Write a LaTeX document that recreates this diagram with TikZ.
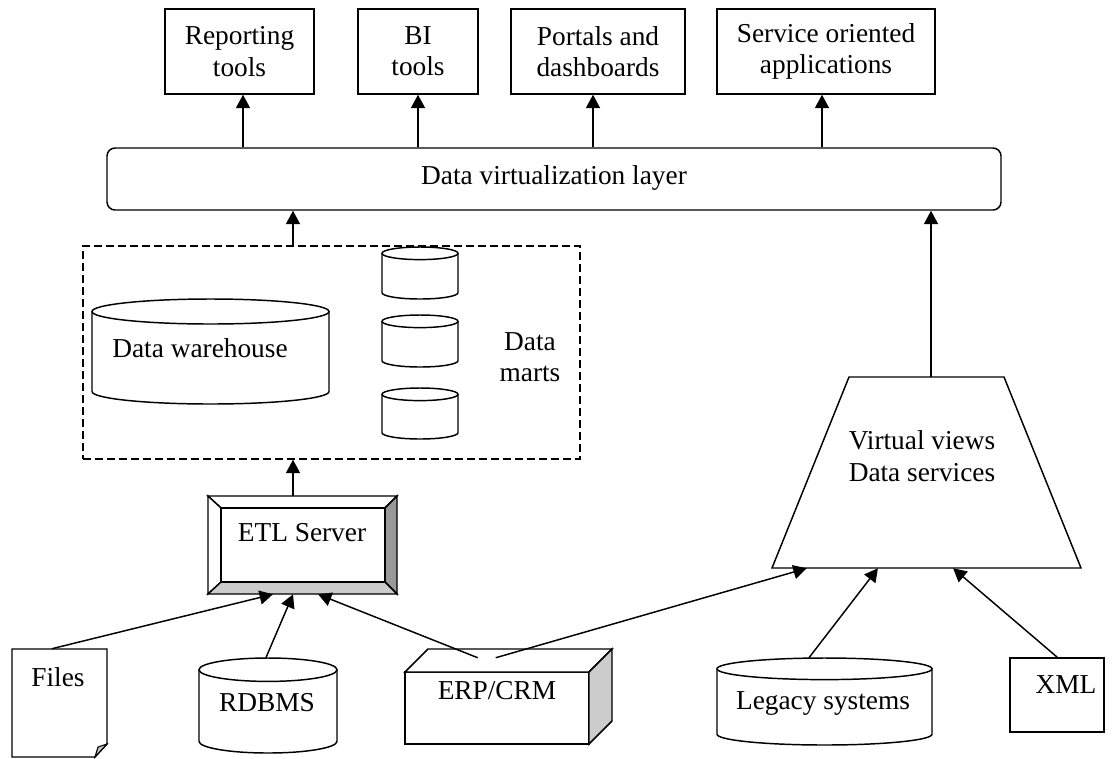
\documentclass[tikz,border=0pt]{standalone}
\usepackage{fontspec}
\setmainfont{Liberation Serif}
\usetikzlibrary{calc,fit,arrows.meta}
\newcommand\cylshape[5]{%
  \filldraw[ln, fill=white] (#1,{#3+#5}) -- (#1,{#4-#5})
    arc[start angle=180, end angle=0, x radius={(#2-#1)/2}, y radius=#5]
    -- (#2,{#3+#5});
  \draw[ln] ({(#1+#2)/2},{#3+#5}) ellipse[x radius={(#2-#1)/2}, y radius=#5];
}
\begin{document}
\begin{tikzpicture}[x=0.75pt,y=-0.75pt,
  every node/.style={font=\fontsize{20.5}{23.5}\selectfont},
  ln/.style={line width=1.1pt},
  box/.style={draw, line width=1.1pt, inner sep=0pt},
  area/.style={inner sep=0pt},
  txt/.style={inner sep=0pt, align=center},
  arr/.style={line width=1.1pt, -{Triangle[length=10pt,width=10.5pt]}}]
\useasboundingbox (0,0) rectangle (1114,758);

% top consumers
\node[box, fit={(165,9)(314,94)}] (rep) {};
\node[txt] (rept) at (rep.center) {Reporting\\tools};
\node[box, fit={(358,9)(478,94)}] (bi) {};
\node[txt] (bit) at (bi.center) {BI\\tools};
\node[box, fit={(511,9)(685,94)}] (portal) {};
\node[txt] (portalt) at (portal.center) {Portals and\\dashboards};
\node[box, fit={(717,9)(935,94)}] (soa) {};
\node[txt] (soat) at (soa.center) {Service oriented\\applications};

% virtualization layer
\node[box, rounded corners=6pt, fit={(107,148)(1001,210)}] (layer) {};
\node[txt] (layert) at ($(layer.center)+(0,-1)$) {Data virtualization layer};

% data warehouse area
\node[draw, line width=1.1pt, dash pattern=on 6pt off 3pt, inner sep=0pt, fit={(83,246)(580,459)}] (dwarea) {};
\cylshape{92}{329}{299}{404}{12.5}
\node[area, fit={(92,299)(329,404)}] (dwh) {};
\node[txt] (dwht) at (200,348) {Data warehouse};
\cylshape{382}{458}{247}{299}{6.3}
\node[area, fit={(382,247)(458,299)}] (dm1) {};
\cylshape{382}{458}{315}{367}{6.3}
\node[area, fit={(382,315)(458,367)}] (dm2) {};
\cylshape{382}{458}{388}{439}{6.3}
\node[area, fit={(382,388)(458,439)}] (dm3) {};
\node[txt] (dmt) at (530,357) {Data\\marts};

% ETL server (bevelled)
\filldraw[ln, fill=white] (208,496) -- (397,496) -- (385,508) -- (221,508) -- cycle;
\filldraw[ln, fill=white] (208,496) -- (221,508) -- (221,582) -- (208,594) -- cycle;
\filldraw[ln, fill=black!40] (397,496) -- (397,594) -- (385,582) -- (385,508) -- cycle;
\filldraw[ln, fill=black!20] (208,594) -- (397,594) -- (385,582) -- (221,582) -- cycle;
\draw[ln] (221,508) rectangle (385,582);
\node[area, fit={(208,496)(397,594)}] (etl) {};
\node[txt] (etlt) at (302,533) {ETL Server};

% virtual views trapezoid
\draw[ln] (849,377) -- (1004,377) -- (1081,568) -- (772,568) -- cycle;
\node[area, fit={(772,377)(1081,568)}] (vv) {};
\node[txt] (vvt) at (922,456) {Virtual views\\Data services};

% Files document
\filldraw[ln, fill=white] (12,649) -- (107,649) -- (107,744) -- (95,757) -- (12,757) -- cycle;
\filldraw[line width=0.8pt, fill=black!25] (107,744) -- (95,757) -- (98,747) -- cycle;
\node[area, fit={(12,649)(107,757)}] (files) {};
\node[txt] (filest) at (58,677) {Files};

% RDBMS
\cylshape{199}{337}{658}{753}{11.7}
\node[area, fit={(199,658)(337,753)}] (rdbms) {};
\node[txt] (rdbmst) at (267,703) {RDBMS};

% ERP/CRM 3D box
\filldraw[ln, fill=white] (405,672) rectangle (589,744);
\filldraw[ln, fill=white] (405,672) -- (428,649) -- (612,649) -- (589,672) -- cycle;
\filldraw[ln, fill=black!20] (589,672) -- (612,649) -- (612,721) -- (589,744) -- cycle;
\node[area, fit={(405,649)(612,744)}] (erp) {};
\node[txt] (erpt) at (497,691) {ERP/CRM};

% Legacy systems
\cylshape{717}{932}{658}{745}{10.8}
\node[area, fit={(717,658)(932,745)}] (legacy) {};
\node[txt] (legacyt) at (823,703) {Legacy systems};

% XML
\node[box, fit={(1010,658)(1104,732)}] (xml) {};
\node[txt] (xmlt) at (1066,685) {XML};

% connector anchor points
\coordinate (a1) at ($(rep.south)+(3.5,0)$);
\coordinate (a2) at (bi.south);
\coordinate (a3) at ($(portal.south)+(-5,0)$);
\coordinate (a4) at ($(soa.south)+(-4,0)$);
\coordinate (a5) at ($(dwarea.north)+(-38.5,0)$);
\coordinate (a6) at ($(vv.north)+(4.5,0)$);

\draw[arr] (a1 |- layer.north) -- (a1);
\draw[arr] (a2 |- layer.north) -- (a2);
\draw[arr] (a3 |- layer.north) -- (a3);
\draw[arr] (a4 |- layer.north) -- (a4);
\draw[arr] (a5) -- (a5 |- layer.south);
\draw[arr] (a6) -- (a6 |- layer.south);
\draw[arr] (a5 |- etl.north) -- (a5 |- dwarea.south);

\draw[arr] ($(files.north west)!0.42!(files.north east)$) -- ($(etl.south west)!0.344!(etl.south east)$);
\draw[arr] ($(rdbms.north west)!0.485!(rdbms.north east)$) -- ($(etl.south west)!0.45!(etl.south east)$);
\draw[arr] ($(erp.north west)+(73,9)$) -- ($(etl.south west)!0.582!(etl.south east)$);
\draw[arr] ($(erp.north west)+(91,9)$) -- ($(vv.south west)!0.113!(vv.south east)$);
\draw[arr] ($(legacy.north west)!0.428!(legacy.north east)$) -- ($(vv.south west)!0.343!(vv.south east)$);
\draw[arr] ($(xml.north west)+(48,0)$) -- ($(vv.south west)!0.586!(vv.south east)$);
\end{tikzpicture}
\end{document}
